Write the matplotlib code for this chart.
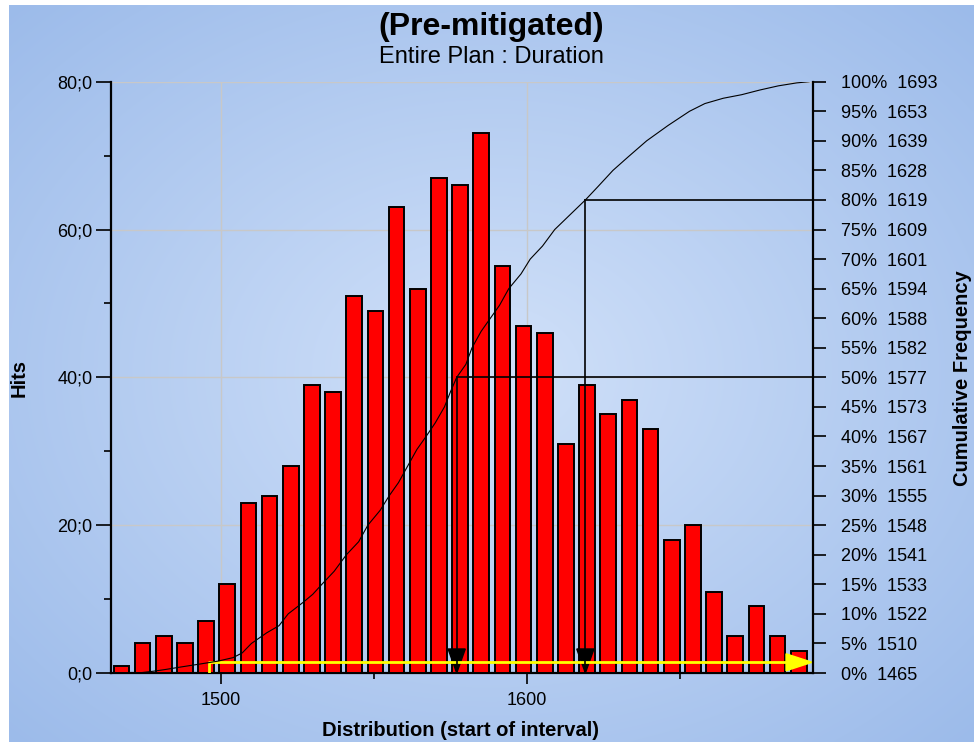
import numpy as np
import matplotlib.pyplot as plt
from matplotlib.ticker import MultipleLocator, FixedLocator

plt.rcParams['font.family'] = ['Liberation Sans', 'DejaVu Sans']

# histogram: hits per interval, 33 intervals between min and max duration
dur_min = 1465
dur_max = 1693
hits = [1, 4, 5, 4, 7, 12, 23, 24, 28, 39, 38, 51, 49, 63, 52, 67, 66, 73,
        55, 47, 46, 31, 39, 35, 37, 33, 18, 20, 11, 5, 9, 5, 3]

# right axis: cumulative percent and the matching duration
pct_levels = list(range(0, 101, 5))
pct_values = [1465, 1510, 1522, 1533, 1541, 1548, 1555, 1561, 1567, 1573, 1577,
              1582, 1588, 1594, 1601, 1609, 1619, 1628, 1639, 1653, 1693]

# cumulative curve
curve_x = [1473, 1478, 1482, 1488, 1493, 1499, 1504, 1507, 1510, 1515, 1519,
           1522, 1527, 1530, 1533, 1537, 1541, 1545, 1548, 1552, 1555, 1558,
           1561, 1564, 1567, 1570, 1573, 1575, 1577, 1580, 1582, 1585, 1588,
           1591, 1594, 1598, 1601, 1605, 1609, 1614, 1619, 1623, 1628, 1633,
           1639, 1646, 1653, 1658, 1664, 1670, 1676, 1682, 1688, 1692]
curve_y = [0, 0.3, 0.6, 1.1, 1.5, 2.0, 2.6, 3.4, 5, 6.8, 8.0, 10, 12.0, 13.3,
           15, 17.2, 20, 22.2, 25, 27.5, 30, 32.2, 35, 37.8, 40, 42.3, 45, 47.6,
           50, 52.2, 55, 57.8, 60, 62.2, 65, 67.5, 70, 72.2, 75, 77.5, 80, 82.2,
           85, 87.3, 90, 92.6, 95, 96.3, 97.2, 97.8, 98.6, 99.3, 99.8, 100]

p50 = 1577
p80 = 1619
yellow_start = 1496
yellow_level = 1.45

W, H = 974, 742
fig = plt.figure(figsize=(W / 100, H / 100), dpi=100, facecolor='white')

# radial blue gradient background
bg = fig.add_axes([9 / W, 0, 1 - 9 / W, 1 - 5 / H], zorder=-10)
gx, gy = np.meshgrid(np.linspace(-1, 1, 400), np.linspace(-1, 1, 300))
r = np.clip(np.sqrt(gx**2 + gy**2) / np.sqrt(2), 0, 1)
c_in = np.array([209, 225, 249]) / 255
c_out = np.array([156, 187, 234]) / 255
img = c_in[None, None, :] * (1 - r[..., None]) + c_out[None, None, :] * r[..., None]
bg.imshow(img, aspect='auto', extent=[0, 1, 0, 1], interpolation='bicubic')
bg.axis('off')

ax = fig.add_axes([110.5 / W, 69 / H, (813 - 110.5) / W, (673 - 81.7) / H])
ax.patch.set_alpha(0)

bin_w = (dur_max - dur_min) / len(hits)
starts = dur_min + bin_w * np.arange(len(hits))
ax.bar(starts, hits, width=bin_w * 0.74, align='edge', color='#ff0000',
       edgecolor='black', linewidth=1.4, zorder=3)

ax.set_xlim(1464, dur_max + 0.3)
ax.set_ylim(0, 80)
ax.set_axisbelow(True)
ax.grid(True, which='major', color='#c8c8c8', linewidth=1, zorder=0)

ax.xaxis.set_major_locator(FixedLocator([1500, 1600]))
ax.xaxis.set_minor_locator(FixedLocator([1550, 1650]))
ax.yaxis.set_major_locator(MultipleLocator(20))
ax.yaxis.set_minor_locator(MultipleLocator(10))
ax.set_yticklabels([f'{v:.0f};0' for v in ax.get_yticks()])
ax.tick_params(axis='y', which='major', length=11, width=1.2, pad=2, labelsize=13)
ax.tick_params(axis='y', which='minor', length=5, width=1.2)
ax.tick_params(axis='x', which='major', length=8, width=1.2, pad=6, labelsize=13)
ax.tick_params(axis='x', which='minor', length=4, width=1.2)
for s in ['left', 'bottom']:
    ax.spines[s].set_linewidth(1.6)
ax.spines['top'].set_visible(False)
ax.spines['right'].set_visible(False)

ax2 = ax.twinx()
ax2.set_ylim(0, 100)
ax2.set_yticks(pct_levels)
ax2.set_yticklabels([f'{p}%  {v}' for p, v in zip(pct_levels, pct_values)])
ax2.tick_params(axis='y', length=9, width=1.2, pad=11, labelsize=13)
ax2.spines['right'].set_linewidth(1.6)
for s in ['left', 'bottom', 'top']:
    ax2.spines[s].set_visible(False)

# cumulative curve
ax2.plot(curve_x, curve_y, color='black', linewidth=0.8, zorder=4)

# 50% and 80% guide lines
for v, p in [(p50, 50), (p80, 80)]:
    ax2.plot([v, v], [0, p], color='black', linewidth=1.2, zorder=5)
    ax2.plot([v, dur_max + 0.3], [p, p], color='black', linewidth=1.2, zorder=5)
    ax.fill([v - 2.8, v + 2.8, v], [3.25, 3.25, 0], color='black', zorder=6)

# yellow arrow along the bottom
ax.plot([yellow_start, yellow_start, dur_max - 8], [0, yellow_level, yellow_level],
        color='#ffff00', linewidth=2, zorder=7, solid_capstyle='butt')
ax.fill([dur_max - 8.5, dur_max - 8.5, dur_max], [yellow_level - 1.15, yellow_level + 1.15, yellow_level],
        color='#ffff00', zorder=7)

fig.text(491 / W, 1 - 27 / H, '(Pre-mitigated)', ha='center', va='center',
         fontsize=23, fontweight='bold')
fig.text(491 / W, 1 - 57 / H, 'Entire Plan : Duration', ha='center', va='center',
         fontsize=17)
fig.text(461 / W, 1 - 731 / H, 'Distribution (start of interval)', ha='center',
         va='center', fontsize=14.5, fontweight='bold')
fig.text(19 / W, 1 - 378 / H, 'Hits', ha='center', va='center', rotation=90,
         fontsize=14.5, fontweight='bold')
fig.text(962 / W, 1 - 378 / H, 'Cumulative Frequency', ha='center', va='center',
         rotation=90, fontsize=14.5, fontweight='bold')

plt.savefig('out.png', dpi=100, facecolor='white')
